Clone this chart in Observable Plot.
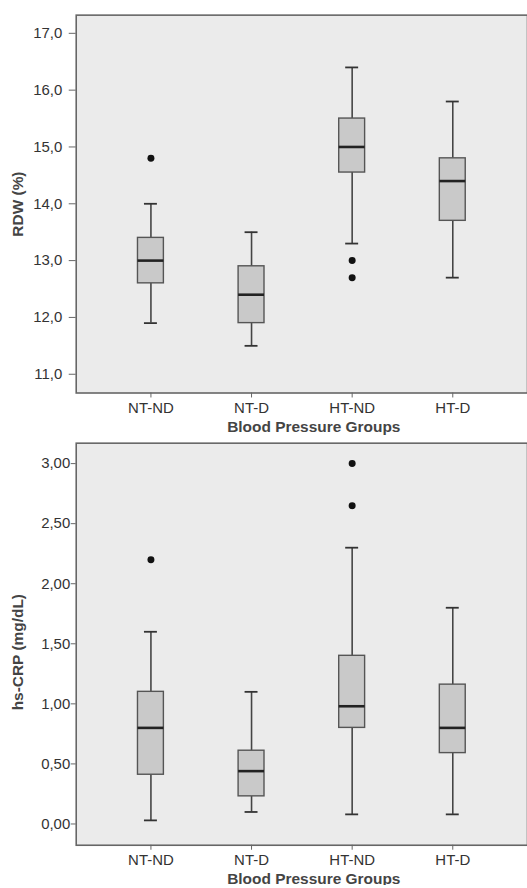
<!DOCTYPE html>
<html>
<head>
<meta charset="utf-8">
<script src="https://cdn.jsdelivr.net/npm/d3@7"></script>
<script src="https://cdn.jsdelivr.net/npm/@observablehq/plot@0.6"></script>
<style>
  html, body { margin: 0; padding: 0; background: #fff; overflow: hidden; }
  svg { display: block; }
</style>
</head>
<body>
<div id="chart"></div>
<script>
const groups = ["NT-ND", "NT-D", "HT-ND", "HT-D"];

// RDW (%)
const rdwLow  = [11.9, 11.5, 13.3, 12.7];
const rdwQ1   = [12.6, 11.9, 14.55, 13.7];
const rdwMed  = [13.0, 12.4, 15.0, 14.4];
const rdwQ3   = [13.4, 12.9, 15.5, 14.8];
const rdwHigh = [14.0, 13.5, 16.4, 15.8];
const rdwOutGroup = ["NT-ND", "HT-ND", "HT-ND"];
const rdwOutValue = [14.8, 13.0, 12.7];
const rdwTicks = [11, 12, 13, 14, 15, 16, 17];

// hs-CRP (mg/dL)
const crpLow  = [0.03, 0.10, 0.08, 0.08];
const crpQ1   = [0.41, 0.23, 0.80, 0.59];
const crpMed  = [0.80, 0.44, 0.98, 0.80];
const crpQ3   = [1.10, 0.61, 1.40, 1.16];
const crpHigh = [1.60, 1.10, 2.30, 1.80];
const crpOutGroup = ["NT-ND", "HT-ND", "HT-ND"];
const crpOutValue = [2.20, 3.00, 2.65];
const crpTicks = [0, 0.5, 1, 1.5, 2, 2.5, 3];

const xTitle = "Blood Pressure Groups";

function table(low, q1, med, q3, high) {
  return groups.map((g, i) => ({g, low: low[i], q1: q1[i], med: med[i], q3: q3[i], high: high[i]}));
}
function outs(gs, vs) { return gs.map((g, i) => ({g, v: vs[i]})); }

function chart({data, outliers, ticks, fmt, domain, height, marginTop, marginBottom, yLabel, yTickSize, yTickPadding, yLabelDy}) {
  return Plot.plot({
    width: 529,
    height,
    marginLeft: 76,
    marginRight: 0,
    marginTop,
    marginBottom,
    style: {fontFamily: "'Liberation Sans', Arial, sans-serif", fontSize: "15px", color: "#333", background: "#fff", overflow: "visible"},
    x: {type: "band", domain: groups, paddingInner: 0.744, paddingOuter: 0.6, label: null},
    y: {domain, label: null},
    marks: [
      Plot.frame({fill: "#ebebeb", stroke: null}),
      Plot.ruleX(data, {x: "g", y1: "low", y2: "q1", stroke: "#444", strokeWidth: 1.6}),
      Plot.ruleX(data, {x: "g", y1: "q3", y2: "high", stroke: "#444", strokeWidth: 1.6}),
      Plot.tickY(data, {x: "g", y: "low", insetLeft: 6.5, insetRight: 6.5, stroke: "#333", strokeWidth: 1.8}),
      Plot.tickY(data, {x: "g", y: "high", insetLeft: 6.5, insetRight: 6.5, stroke: "#333", strokeWidth: 1.8}),
      Plot.barY(data, {x: "g", y1: "q1", y2: "q3", fill: "#c9c9c9", stroke: "#555", strokeWidth: 1.4}),
      Plot.tickY(data, {x: "g", y: "med", stroke: "#222", strokeWidth: 2.6}),
      Plot.dot(outliers, {x: "g", y: "v", r: 3.5, fill: "#111", stroke: null}),
      Plot.axisX({tickSize: 5, tickPadding: 4, stroke: "#666", fill: "#333", label: null}),
      Plot.axisY({ticks, tickFormat: fmt, tickSize: yTickSize, tickPadding: yTickPadding, stroke: "#666", fill: "#333", label: null}),
      Plot.frame({stroke: "#666", strokeWidth: 1.6}),
      Plot.text([yLabel], {frameAnchor: "left", dx: -58, dy: yLabelDy, rotate: -90, textAnchor: "middle", lineAnchor: "middle", fontWeight: "bold", fontSize: 15.5, fill: "#444"}),
      Plot.text([xTitle], {frameAnchor: "bottom", dx: 12, dy: 34, textAnchor: "middle", lineAnchor: "middle", fontWeight: "bold", fontSize: 15.5, fill: "#444"})
    ]
  });
}

const comma1 = d => d3.format(".1f")(d).replace(".", ",");
const comma2 = d => d3.format(".2f")(d).replace(".", ",");

const rdwChart = chart({
  data: table(rdwLow, rdwQ1, rdwMed, rdwQ3, rdwHigh),
  outliers: outs(rdwOutGroup, rdwOutValue),
  ticks: rdwTicks, fmt: comma1,
  domain: [10.67, 17.32],
  height: 440, marginTop: 14.7, marginBottom: 46,
  yLabel: "RDW (%)", yTickSize: 7, yTickPadding: 7, yLabelDy: 0
});
const crpChart = chart({
  data: table(crpLow, crpQ1, crpMed, crpQ3, crpHigh),
  outliers: outs(crpOutGroup, crpOutValue),
  ticks: crpTicks, fmt: comma2,
  domain: [-0.177, 3.17],
  height: 448, marginTop: 4.7, marginBottom: 39.7,
  yLabel: "hs-CRP (mg/dL)", yTickSize: 5, yTickPadding: 1, yLabelDy: 8
});
document.getElementById("chart").append(rdwChart, crpChart);
</script>
</body>
</html>
